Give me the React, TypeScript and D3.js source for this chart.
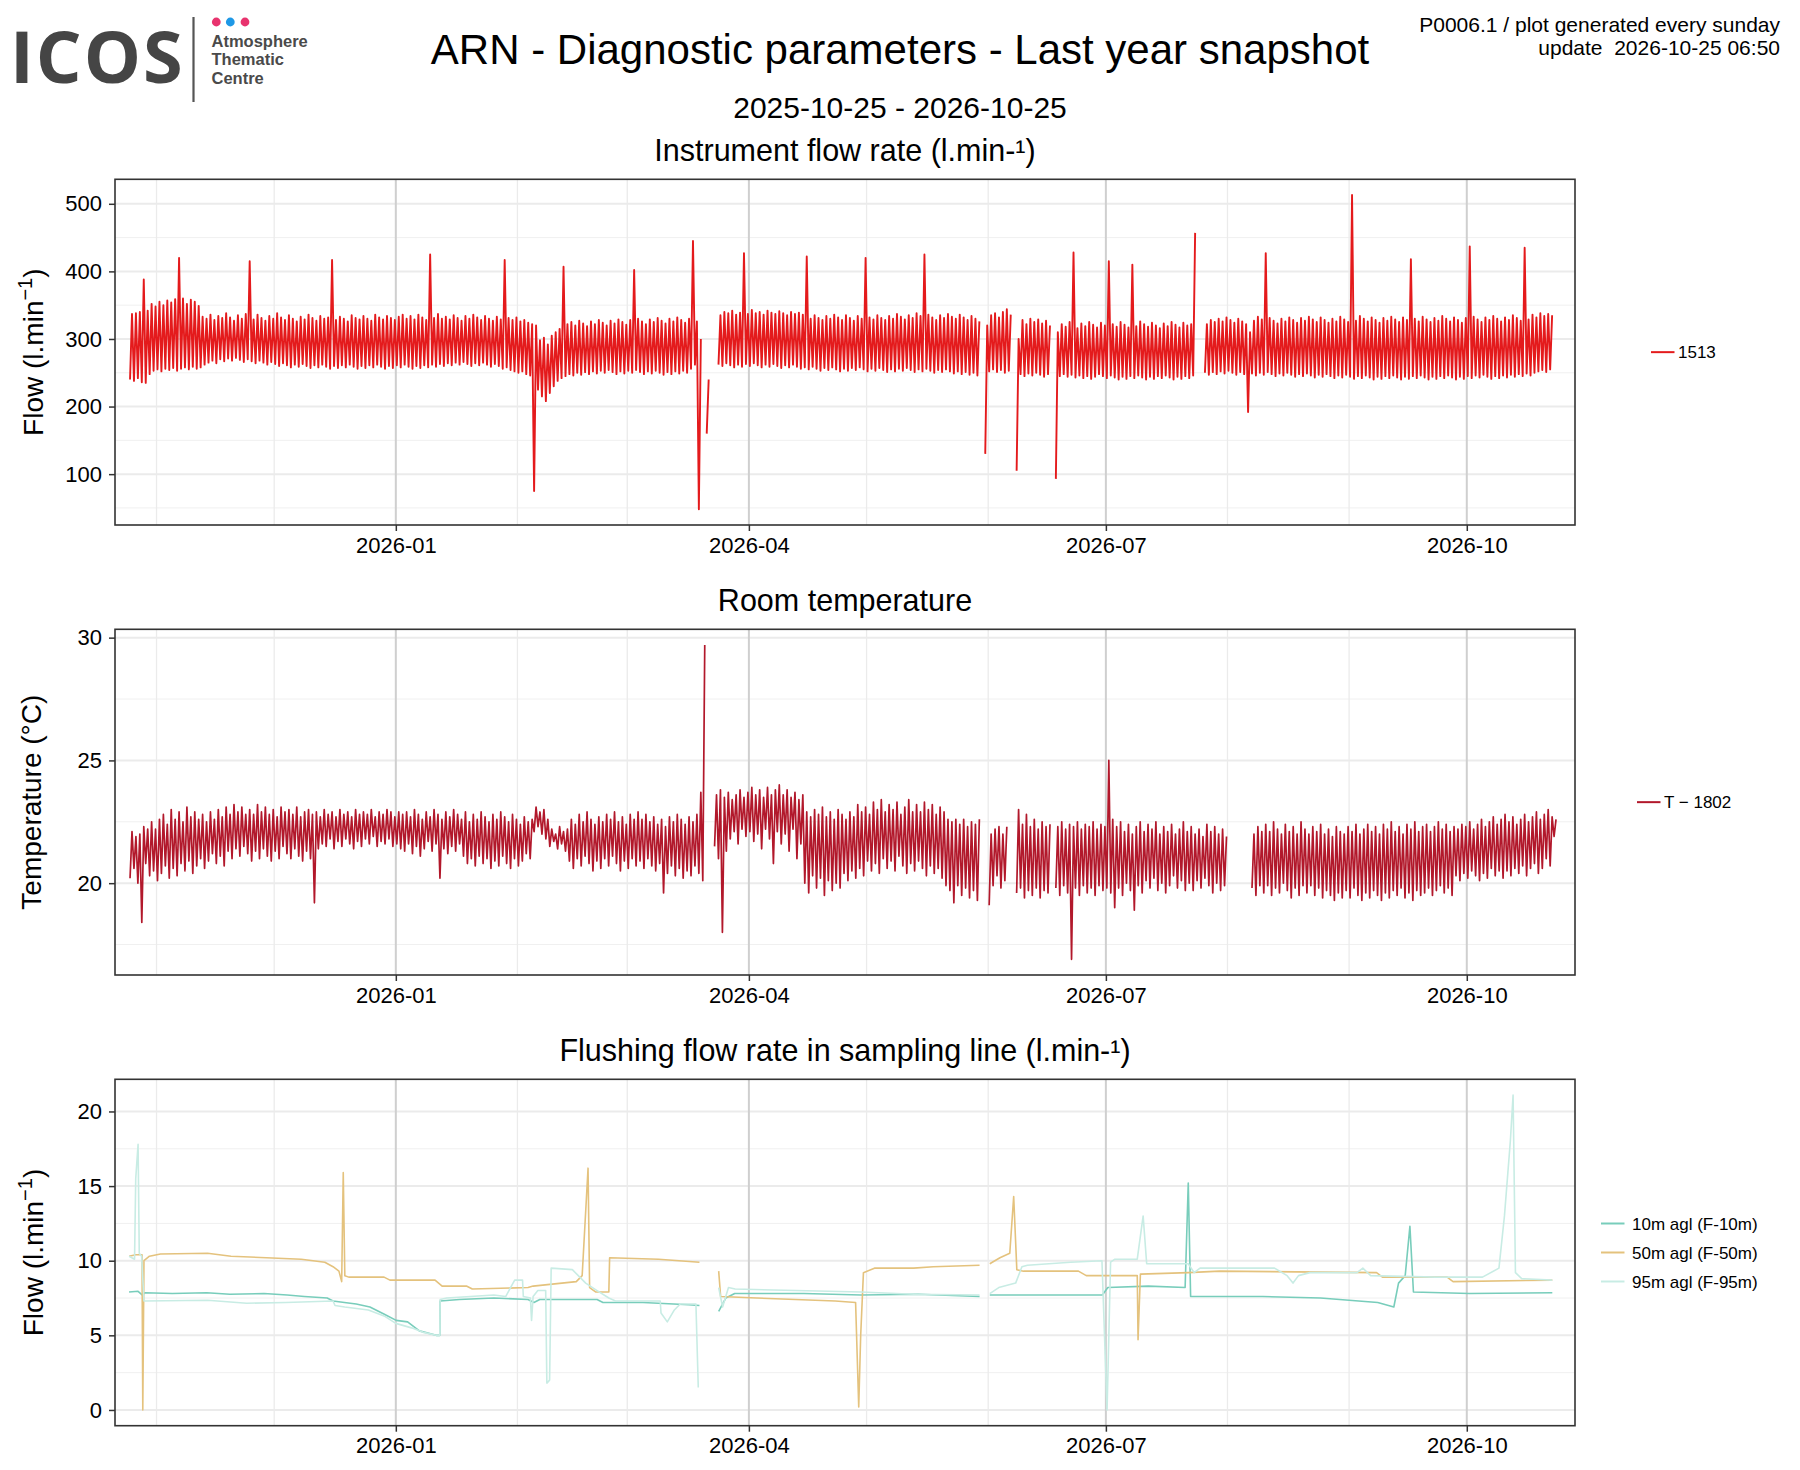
import React, { useEffect, useRef } from 'react';
import * as d3 from 'd3';

// ---- data ----
// daily series start on this day; index = days since START_DAY
const START_DAY = '2025-10-25';
const X_LIMITS = ['2025-10-21T10:00:00Z', '2026-10-28T14:00:00Z'];
const X_TICKS = ['2026-01-01', '2026-04-01', '2026-07-01', '2026-10-01'];
const X_MINOR = ['2025-11-01', '2025-12-01', '2026-02-01', '2026-03-01', '2026-05-01', '2026-06-01', '2026-08-01', '2026-09-01'];

const FLOW_TICKS = [100, 200, 300, 400, 500];
const TEMP_TICKS = [20, 25, 30];
const FLUSH_TICKS = [0, 5, 10, 15, 20];

// instrument flow rate, daily max / min (l/min)
const FLOW_HI = [
  337, 338, 340, 388, 342, 352, 348, 355, 350, 357,
  354, 359, 420, 360, 352, 358, 355, 349, 333, 330,
  336, 328, 334, 331, 338, 332, 327, 335, 330, 337,
  415, 329, 336, 331, 327, 334, 330, 338, 332, 328,
  335, 330, 326, 333, 329, 336, 331, 327, 334, 330,
  332, 417, 328, 333, 330, 326, 335, 331, 329, 334,
  330, 327, 336, 332, 329, 334, 331, 328, 333, 336,
  330, 334, 329, 336, 332, 328, 425, 331, 337, 330,
  333, 329, 335, 331, 327, 334, 330, 336, 332, 328,
  334, 330, 327, 333, 329, 417, 331, 328, 332, 326,
  328, 324, 322, 320, 298, 302, 292, 305, 310, 315,
  407, 322, 325, 320, 327, 323, 319, 326, 322, 328,
  324, 320, 327, 323, 329, 325, 321, 328, 402, 330,
  326, 322, 329, 325, 331, 327, 323, 330, 326, 332,
  328, 324, 330, 445, 326, 300, null, 240, null, null,
  335, 340, 338, 342, 336, 339, 427, 337, 343, 338,
  340, 336, 342, 339, 337, 341, 338, 335, 340, 337,
  339, 336, 422, 330, 335, 331, 328, 334, 330, 336,
  332, 328, 335, 331, 327, 334, 330, 420, 332, 329,
  335, 331, 328, 334, 330, 337, 333, 329, 335, 331,
  338, 334, 425, 336, 332, 328, 335, 331, 337, 333,
  330, 336, 332, 328, 334, 330, 326, null, 320, 335,
  338, 332, 340, 344, 336, null, 300, 328, 322, 330,
  325, 329, 323, 327, 320, null, 310, 322, 318, 325,
  428, 316, 323, 319, 325, 321, 317, 324, 320, 415,
  322, 318, 325, 321, 317, 410, 319, 326, 322, 318,
  324, 320, 316, 323, 319, 325, 321, 317, 324, 320,
  322, 457, null, null, 322, 328, 325, 330, 326, 332,
  328, 324, 330, 326, 322, 310, 327, 333, 329, 427,
  331, 327, 323, 330, 326, 332, 328, 324, 331, 327,
  333, 329, 325, 332, 328, 324, 330, 326, 333, 329,
  325, 513, 327, 334, 330, 326, 332, 328, 324, 331,
  327, 333, 329, 325, 332, 328, 418, 330, 326, 333,
  329, 325, 331, 327, 334, 330, 326, 332, 328, 324,
  331, 437, 333, 329, 325, 332, 328, 334, 330, 326,
  332, 328, 335, 331, 327, 435, 329, 336, 332, 338,
  334, 337, 335,
];
const FLOW_LO = [
  240, 238, 242, 236, 235, 248, 253, 255, 252, 256,
  254, 257, 253, 256, 258, 255, 259, 256, 258, 262,
  265, 268, 264, 270, 267, 271, 268, 272, 269, 266,
  270, 267, 264, 268, 265, 262, 266, 263, 260, 264,
  261, 258, 262, 259, 263, 260, 257, 261, 258, 262,
  259, 256, 260, 257, 261, 258, 262, 259, 256, 260,
  257, 261, 258, 262, 259, 256, 260, 257, 261, 258,
  262, 259, 256, 260, 257, 261, 258, 262, 259, 263,
  260, 264, 261, 265, 262, 266, 263, 260, 264, 261,
  265, 262, 259, 263, 260, 256, 258, 254, 252, 250,
  252, 248, 246, 75, 225, 215, 208, 220, 230, 238,
  242, 245, 248, 246, 250, 247, 251, 248, 252, 249,
  253, 250, 254, 251, 248, 252, 249, 253, 250, 254,
  251, 248, 252, 249, 253, 250, 247, 251, 248, 252,
  249, 253, 250, 256, 262, 48, null, 160, null, null,
  262, 260, 264, 261, 258, 262, 259, 263, 260, 264,
  261, 258, 262, 259, 263, 260, 257, 261, 258, 262,
  259, 256, 258, 255, 259, 256, 253, 257, 254, 258,
  255, 252, 256, 253, 257, 254, 258, 255, 252, 256,
  253, 257, 254, 251, 255, 252, 256, 253, 257, 254,
  251, 255, 252, 256, 253, 250, 254, 251, 255, 252,
  249, 252, 248, 251, 247, 250, 246, null, 130, 252,
  255, 251, 254, 250, 253, null, 105, 248, 245, 249,
  246, 250, 247, 244, 248, null, 93, 245, 248, 244,
  247, 243, 246, 242, 245, 241, 244, 248, 245, 242,
  246, 243, 240, 244, 241, 245, 242, 246, 243, 240,
  244, 241, 245, 242, 246, 243, 240, 244, 241, 245,
  242, 246, null, null, 250, 247, 251, 248, 252, 249,
  253, 250, 247, 251, 248, 192, 249, 246, 250, 247,
  251, 248, 245, 249, 246, 250, 247, 244, 248, 245,
  249, 246, 243, 247, 244, 248, 245, 242, 246, 243,
  247, 244, 241, 245, 242, 246, 243, 240, 244, 241,
  245, 242, 246, 243, 240, 244, 241, 245, 242, 246,
  243, 240, 244, 241, 245, 242, 246, 243, 240, 244,
  241, 245, 242, 246, 243, 247, 244, 241, 245, 242,
  246, 243, 247, 244, 248, 245, 249, 246, 250, 252,
  254, 251, 255,
];

// room temperature, daily max / min (°C)
const TEMP_HI = [
  22.1, 21.9, 22.0, 22.3, 22.2, 22.5, 22.2, 22.6, 22.8, 22.4,
  23.0, 22.6, 22.9, 22.5, 23.1, 22.7, 22.9, 22.6, 22.8, 22.5,
  22.9, 22.6, 23.0, 22.7, 23.1, 22.8, 23.2, 22.9, 23.1, 22.8,
  23.0, 22.8, 23.2, 22.9, 23.1, 22.8, 23.0, 22.7, 23.1, 22.9,
  23.0, 22.8, 23.1, 22.7, 22.9, 23.0, 22.8, 22.9, 22.7, 23.0,
  22.8, 22.9, 22.7, 23.0, 22.8, 22.9, 22.7, 23.0, 22.8, 22.9,
  22.8, 23.0, 22.7, 22.9, 22.8, 23.0, 22.9, 22.7, 22.9, 22.8,
  22.9, 22.7, 23.0, 22.8, 22.6, 22.9, 22.7, 23.0, 22.8, 22.6,
  22.9, 22.7, 23.0, 22.8, 22.6, 22.9, 22.5, 22.8, 22.6, 22.9,
  22.7, 22.5, 22.8, 22.6, 22.9, 22.7, 22.5, 22.8, 22.6, 22.4,
  22.7, 22.5, 22.6, 23.1, 22.9, 23.0, 22.6, 22.2, 22.0, 22.3,
  22.1, 22.2, 22.6, 22.4, 22.8, 22.5, 22.9, 22.6, 22.4, 22.7,
  22.5, 22.8, 22.6, 22.9, 22.5, 22.7, 22.4, 22.8, 22.6, 22.9,
  22.6, 22.8, 22.5, 22.7, 22.4, 22.6, 22.3, 22.7, 22.5, 22.8,
  22.6, 22.4, 22.7, 22.5, 22.8, 23.7, 29.7, null, null, 23.6,
  23.8, 23.5, 23.7, 23.4, 23.6, 23.8, 23.5, 23.7, 23.9, 23.6,
  23.8, 23.5, 23.9, 23.6, 23.8, 24.0, 23.6, 23.8, 23.5, 23.7,
  23.4, 23.6, 22.9, 22.7, 23.0, 22.8, 23.1, 22.7, 22.9, 22.6,
  23.0, 22.8, 22.6, 22.9, 22.7, 23.2, 22.9, 23.1, 22.8, 23.3,
  23.0, 23.4, 22.9, 23.2, 23.0, 23.3, 22.8, 23.1, 23.4, 22.9,
  23.2, 22.9, 23.3, 23.0, 23.2, 22.8, 23.1, 22.9, 22.6, 22.5,
  22.6, 22.4, 22.6, 22.3, 22.5, 22.4, 22.6, null, null, 22.0,
  22.2, 22.3, 22.0, 22.3, null, null, 23.0, 22.4, 22.8, 22.3,
  22.6, 22.2, 22.5, 22.3, 22.4, null, 22.3, 22.5, 22.2, 22.4,
  22.3, 22.5, 22.2, 22.4, 22.3, 22.5, 22.2, 22.4, 22.3, 25.0,
  22.6, 22.3, 22.5, 22.1, 22.4, 22.0, 22.3, 22.5, 22.1, 22.4,
  22.2, 22.5, 22.0, 22.3, 22.1, 22.4, 22.0, 22.2, 22.5, 22.1,
  22.3, 22.0, 22.2, 21.9, 22.4, 22.1, 22.3, 22.0, 22.2, 21.9,
  null, null, null, null, null, null, 22.0, 22.3, 22.1, 22.4,
  22.1, 22.5, 22.2, 22.0, 22.4, 22.1, 22.3, 22.0, 22.5, 22.2,
  22.0, 22.3, 22.1, 22.4, 22.0, 22.2, 21.9, 22.3, 22.1, 22.0,
  22.3, 22.1, 22.4, 22.0, 22.2, 22.4, 22.1, 22.3, 22.0, 22.4,
  22.2, 22.5, 22.1, 22.3, 22.0, 22.4, 22.2, 22.5, 22.1, 22.3,
  22.4, 22.1, 22.3, 22.5, 22.2, 22.4, 22.1, 22.3, 22.2, 22.4,
  22.3, 22.5, 22.2, 22.4, 22.6, 22.3, 22.5, 22.7, 22.4, 22.6,
  22.8, 22.5, 22.7, 22.4, 22.6, 22.8, 22.5, 22.7, 22.9, 22.6,
  22.8, 23.0, 22.7, 22.6,
];
const TEMP_LO = [
  20.2, 20.6, 20.0, 18.4, 20.8, 20.3, 20.5, 20.1, 20.4, 20.7,
  20.2, 20.6, 20.3, 20.8, 20.5, 20.9, 20.4, 20.7, 21.0, 20.6,
  20.9, 21.2, 20.8, 21.1, 20.7, 21.3, 21.0, 21.4, 21.1, 21.5,
  21.2, 20.9, 21.3, 21.0, 21.4, 21.1, 20.9, 21.3, 21.0, 21.5,
  21.2, 21.0, 21.4, 21.1, 20.9, 21.3, 21.0, 19.2, 21.4, 21.6,
  21.5, 21.8, 21.4, 21.7, 21.5, 21.8, 21.6, 21.4, 21.7, 21.5,
  21.8, 21.6, 21.9, 21.5, 21.7, 21.6, 21.8, 21.5, 21.6, 21.4,
  21.3, 21.6, 21.2, 21.5, 21.1, 21.4, 21.7, 21.3, 21.6, 20.2,
  21.4, 21.2, 21.5, 21.3, 21.6, 21.1, 20.8, 21.0, 20.7, 21.1,
  20.8, 21.0, 20.6, 20.9, 20.7, 21.1, 20.8, 20.6, 21.0, 20.7,
  20.9, 21.2, 21.0, 22.1, 22.3, 22.0, 21.8, 21.5, 21.7, 21.4,
  21.6, 21.3, 20.9, 20.6, 21.0, 20.7, 21.1, 20.8, 20.5, 20.9,
  20.6, 21.0, 20.7, 21.1, 20.8, 20.5, 20.9, 20.6, 21.0, 20.7,
  20.9, 20.6, 21.0, 20.7, 20.5, 20.8, 19.6, 20.4, 20.7, 20.3,
  20.6, 20.2, 20.5, 20.3, 20.7, 20.4, 20.1, null, null, 21.5,
  21.0, 18.0, 21.3, 21.8, 22.1, 21.6, 22.2, 21.9, 22.1, 21.7,
  22.0, 21.4, 22.2, 21.8, 20.8, 22.1, 21.6, 22.0, 21.3, 22.2,
  21.0, 21.6, 20.0, 19.6, 20.3, 19.8, 20.2, 19.5, 20.1, 19.7,
  20.0, 19.8, 20.4, 20.1, 20.5, 20.2, 20.6, 20.3, 20.9, 20.5,
  20.8, 20.4, 21.0, 20.6, 20.9, 20.5, 21.1, 20.7, 20.4, 20.8,
  20.5, 20.9, 20.6, 20.3, 20.7, 20.4, 20.6, 20.2, 19.9, 19.7,
  19.2, 19.9, 19.5, 19.8, 19.4, 19.7, 19.3, null, null, 19.1,
  19.9, 20.3, 19.8, 20.1, null, null, 19.6, 19.8, 19.4, 19.7,
  19.5, 19.8, 19.4, 19.7, 19.6, null, 19.8, 19.5, 19.9, 19.6,
  16.9, 19.8, 19.5, 19.9, 19.6, 19.8, 19.5, 19.9, 19.7, 19.8,
  19.6, 19.0, 19.8, 19.5, 20.0, 19.7, 18.9, 19.9, 19.6, 20.1,
  19.8, 20.2, 19.7, 20.0, 19.6, 19.9, 20.3, 19.8, 20.1, 19.7,
  20.0, 19.7, 20.1, 19.8, 20.2, 19.9, 19.6, 20.0, 19.7, 19.9,
  null, null, null, null, null, null, 19.8, 19.5, 19.9, 19.6,
  19.9, 19.5, 19.8, 19.6, 20.0, 19.7, 19.4, 19.8, 19.5, 19.9,
  19.6, 19.9, 19.5, 19.8, 19.4, 19.7, 19.5, 19.3, 19.6, 19.4,
  19.7, 19.4, 19.8, 19.5, 19.3, 19.6, 19.4, 19.7, 19.5, 19.3,
  19.6, 19.4, 19.7, 19.5, 19.8, 19.4, 19.6, 19.3, 19.7, 19.5,
  19.6, 19.8, 19.5, 19.7, 19.9, 19.6, 19.8, 19.5, 20.3, 20.1,
  20.4, 20.2, 20.5, 20.3, 20.1, 20.4, 20.2, 20.6, 20.3, 20.5,
  20.2, 20.5, 20.3, 20.6, 20.4, 20.7, 20.3, 20.6, 20.8, 20.4,
  20.6, 21.0, 20.7, 21.9,
];

// flushing flow, [days since START_DAY, l/min]; null = no data
const FLUSH_10M = [
  [0, 7.9], [2.3, 7.95], [3.4, 7.7], [4.0, 7.85], [11, 7.8], [19.8, 7.85], [25.7, 7.75],
  [34.4, 7.8], [40.3, 7.7], [44.7, 7.6], [50.5, 7.5], [52, 7.3], [54.9, 7.2], [57.9, 7.1],
  [61.4, 6.9], [65.2, 6.4], [68.1, 6.0], [71, 5.9], [74, 5.3], [78.3, 5.0], [79.2, 5.0],
  [79.3, 7.3], [84.2, 7.4], [93, 7.5], [101.7, 7.4], [103.2, 7.2], [104.7, 7.4], [119.3, 7.4],
  [120.8, 7.2], [131, 7.2], [142.7, 7.05], [145.4, 7.0], [146, null],
  [150.3, 6.6], [152.1, 7.5], [154.4, 7.8], [172, 7.8], [186.6, 7.7], [201.2, 7.75], [216.8, 7.6],
  [218, null],
  [219.4, 7.7], [230.5, 7.7], [248.1, 7.7], [249.5, 8.2], [259.8, 8.3], [269.2, 8.2], [270, 15.2],
  [270.6, 7.6], [289, 7.6], [303.7, 7.5], [318.3, 7.2], [322.4, 6.9], [323.6, 8.5], [325.3, 9.0],
  [326.5, 12.3], [327.4, 7.9], [341.7, 7.8], [362.8, 7.85],
];
const FLUSH_50M = [
  [0, 10.3], [1.7, 10.4], [3.3, 10.4], [3.5, 0.0], [3.8, 10.0], [5.2, 10.3], [8, 10.45],
  [20, 10.5], [26, 10.3], [35, 10.2], [43.9, 10.1], [49.9, 9.9], [52, 9.6], [53.5, 9.3],
  [54.2, 8.6], [54.6, 15.9], [55.0, 9.0], [56, 8.9], [65, 8.9], [66.5, 8.7], [78, 8.7],
  [79.8, 8.3], [86, 8.3], [87.5, 8.1], [101.7, 8.2], [103, 8.3], [114, 8.6], [115.5, 9.0],
  [117, 16.2], [117.4, 8.2], [119, 7.9], [122.3, 7.9], [122.5, 10.2], [135, 10.1], [145.4, 9.9],
  [146, null],
  [150.3, 9.3], [150.8, 7.6], [160, 7.5], [180, 7.3], [185.2, 7.2], [186, 0.2], [186.5, 5.0],
  [187.2, 9.2], [190, 9.5], [200, 9.5], [205, 9.6], [216.8, 9.7], [218, null],
  [219.4, 9.8], [222, 10.2], [224.5, 10.5], [225.5, 14.3], [226.3, 9.4], [228, 9.3], [242, 9.3],
  [244, 9.0], [257, 9.0], [257.2, 4.7], [257.8, 9.1], [270, 9.2], [278, 9.3], [318, 9.2],
  [319.5, 8.9], [336, 8.9], [337.5, 8.6], [362.8, 8.7],
];
const FLUSH_95M = [
  [0, 10.3], [1.4, 10.1], [1.7, 15.5], [2.3, 17.8], [2.6, 10.5], [3.2, 10.3], [3.8, 7.3],
  [20, 7.35], [30, 7.15], [40, 7.2], [52, 7.3], [52.5, 7.0], [55, 6.9], [61, 6.7], [65, 6.3],
  [68, 5.8], [72, 5.5], [75, 5.2], [78.3, 5.0], [79.2, 5.0], [79.3, 7.4], [81, 7.5], [93, 7.7],
  [96, 7.6], [98.3, 8.7], [100.3, 8.7], [100.5, 7.6], [102.3, 7.5], [102.6, 6.0], [103, 7.6],
  [104.2, 8.0], [106.2, 8.0], [106.5, 1.8], [107.2, 2.0], [107.6, 9.5], [113, 9.4], [114.9, 8.9],
  [116.4, 8.5], [119.3, 8.0], [122.3, 7.5], [124, 7.3], [135.4, 7.3], [135.6, 6.5], [137.2, 5.9],
  [139, 6.7], [140.5, 7.1], [144.5, 7.1], [145.1, 1.5], [146, null],
  [150.3, 8.2], [151.3, 6.9], [152.8, 8.2], [154.5, 8.1], [170, 8.0], [186.6, 7.9], [200, 7.75],
  [216.8, 7.7], [218, null],
  [219.4, 7.8], [221.7, 8.2], [226, 8.5], [227.6, 9.6], [229, 9.7], [240, 9.9], [248, 10.0],
  [249.3, 0.0], [250.2, 9.9], [251.3, 10.1], [257, 10.1], [258.5, 13.0], [259.4, 9.8], [270, 9.8],
  [271.5, 9.2], [273, 9.5], [292, 9.5], [295.2, 9.0], [296.7, 8.5], [298.1, 9.0], [301, 9.2],
  [313, 9.2], [314.5, 9.5], [316.5, 9.0], [333, 8.9], [345, 8.9], [349.2, 9.5], [350.6, 13.0],
  [352.1, 18.0], [352.8, 21.1], [353.4, 9.2], [355, 8.8], [362.8, 8.7],
];

const FLUSH_NAMES = ['10m agl (F-10m)', '50m agl (F-50m)', '95m agl (F-95m)'];

// ---- layout ----
const W = 1800;
const H = 1470;
const PLOT_L = 115;
const PLOT_R = 1575;
const FONT = '"Liberation Sans", Arial, Helvetica, sans-serif';

type Pt = { d: number; v: number | null };

const dayMs = 864e5;
const start = new Date(START_DAY + 'T00:00:00Z').getTime();
const dayToDate = (d: number) => new Date(start + d * dayMs);

// daily max/min -> one line going min -> max each day
function dailyPoints(hi: (number | null)[], lo: (number | null)[]): Pt[] {
  const pts: Pt[] = [];
  hi.forEach((h, i) => {
    if (h == null || lo[i] == null) {
      pts.push({ d: i + 0.5, v: null });
      return;
    }
    pts.push({ d: i + 0.25, v: lo[i] as number }, { d: i + 0.75, v: h });
  });
  return pts;
}

const pairPoints = (arr: (number | null)[][]): Pt[] => arr.map(([d, v]) => ({ d: d as number, v }));

export default function App() {
  const svgRef = useRef<SVGSVGElement>(null);

  useEffect(() => {
    if (!svgRef.current) return;
    const svg = d3.select(svgRef.current);
    svg.selectAll('*').remove();

    svg.append('rect').attr('width', W).attr('height', H).attr('fill', '#ffffff');

    const x = d3.scaleUtc()
      .domain(X_LIMITS.map(s => new Date(s)))
      .range([PLOT_L, PLOT_R]);

    const flushColors = ['#78cdbb', '#e4c27d', '#c8ece4'];

    const panels = [
      {
        top: 179.3, bottom: 525, titleY: 161, ytitleX: 43,
        title: 'Instrument flow rate (l.min-¹)',
        ytitle: ['Flow (l.min', '−1', ')'],
        ticks: FLOW_TICKS,
        series: [{ pts: dailyPoints(FLOW_HI, FLOW_LO), color: '#e41a1c', width: 1.9 }],
        legend: { keyX: 1651, textX: 1678, rows: [{ label: '1513', color: '#e41a1c' }] },
      },
      {
        top: 629.3, bottom: 975, titleY: 611, ytitleX: 41,
        title: 'Room temperature',
        ytitle: ['Temperature (°C)'],
        ticks: TEMP_TICKS,
        series: [{ pts: dailyPoints(TEMP_HI, TEMP_LO), color: '#b2182b', width: 1.7 }],
        legend: { keyX: 1637, textX: 1664, rows: [{ label: 'T − 1802', color: '#b2182b' }] },
      },
      {
        top: 1079.3, bottom: 1425.7, titleY: 1061, ytitleX: 43,
        title: 'Flushing flow rate in sampling line (l.min-¹)',
        ytitle: ['Flow (l.min', '−1', ')'],
        ticks: FLUSH_TICKS,
        series: [
          { pts: pairPoints(FLUSH_10M), color: flushColors[0], width: 1.6 },
          { pts: pairPoints(FLUSH_50M), color: flushColors[1], width: 1.6 },
          { pts: pairPoints(FLUSH_95M), color: flushColors[2], width: 1.6 },
        ],
        legend: {
          keyX: 1601, textX: 1632,
          rows: FLUSH_NAMES.map((label, i) => ({ label, color: flushColors[i] })),
        },
      },
    ];

    panels.forEach(p => {
      const g = svg.append('g');
      const vals = p.series.flatMap(s => s.pts.map(q => q.v)).filter(v => v != null) as number[];
      const [lo, hi] = d3.extent(vals) as [number, number];
      const pad = (hi - lo) * 0.05;
      const y = d3.scaleLinear().domain([lo - pad, hi + pad]).range([p.bottom, p.top]);

      // minor horizontal grid (half steps)
      const step = p.ticks[1] - p.ticks[0];
      const minorY = [p.ticks[0] - step / 2, ...p.ticks.map(t => t + step / 2)]
        .filter(v => v > y.domain()[0] && v < y.domain()[1]);
      g.selectAll('line.hmin').data(minorY).enter().append('line')
        .attr('x1', PLOT_L).attr('x2', PLOT_R)
        .attr('y1', d => y(d)).attr('y2', d => y(d))
        .attr('stroke', '#f0f0f0').attr('stroke-width', 1);

      // minor vertical grid (monthly)
      g.selectAll('line.vmin').data(X_MINOR).enter().append('line')
        .attr('x1', d => x(new Date(d + 'T00:00:00Z'))).attr('x2', d => x(new Date(d + 'T00:00:00Z')))
        .attr('y1', p.top).attr('y2', p.bottom)
        .attr('stroke', '#ebebeb').attr('stroke-width', 1.3);

      // major horizontal grid
      g.selectAll('line.hmaj').data(p.ticks).enter().append('line')
        .attr('x1', PLOT_L).attr('x2', PLOT_R)
        .attr('y1', d => y(d)).attr('y2', d => y(d))
        .attr('stroke', '#ebebeb').attr('stroke-width', 2);

      // major vertical grid
      g.selectAll('line.vmaj').data(X_TICKS).enter().append('line')
        .attr('x1', d => x(new Date(d + 'T00:00:00Z'))).attr('x2', d => x(new Date(d + 'T00:00:00Z')))
        .attr('y1', p.top).attr('y2', p.bottom)
        .attr('stroke', '#cfcfcf').attr('stroke-width', 2);

      // series
      const line = d3.line<Pt>()
        .defined(q => q.v != null)
        .x(q => x(dayToDate(q.d)))
        .y(q => y(q.v as number));

      p.series.forEach(s => {
        g.append('path')
          .datum(s.pts)
          .attr('d', line)
          .attr('fill', 'none')
          .attr('stroke', s.color)
          .attr('stroke-width', s.width)
          .attr('stroke-linejoin', 'round');
      });

      // panel border
      g.append('rect')
        .attr('x', PLOT_L).attr('y', p.top)
        .attr('width', PLOT_R - PLOT_L).attr('height', p.bottom - p.top)
        .attr('fill', 'none').attr('stroke', '#333333').attr('stroke-width', 1.6);

      // y axis
      const yAxis = g.append('g').attr('transform', `translate(${PLOT_L},0)`)
        .call(d3.axisLeft(y).tickValues(p.ticks).tickSize(6).tickPadding(7).tickFormat(d3.format('d')));
      yAxis.select('.domain').remove();
      yAxis.selectAll('.tick line').attr('stroke', '#333333').attr('stroke-width', 1.5);
      yAxis.selectAll('.tick text')
        .attr('fill', '#000').attr('font-size', 22).attr('font-family', FONT);

      // x axis
      const xAxis = g.append('g').attr('transform', `translate(0,${p.bottom})`)
        .call(d3.axisBottom(x)
          .tickValues(X_TICKS.map(d => new Date(d + 'T00:00:00Z')))
          .tickSize(6).tickPadding(6)
          .tickFormat(d => d3.utcFormat('%Y-%m')(d as Date)));
      xAxis.select('.domain').remove();
      xAxis.selectAll('.tick line').attr('stroke', '#333333').attr('stroke-width', 1.5);
      xAxis.selectAll('.tick text')
        .attr('fill', '#000').attr('font-size', 22).attr('font-family', FONT);

      // panel title
      svg.append('text')
        .attr('x', (PLOT_L + PLOT_R) / 2).attr('y', p.titleY)
        .attr('text-anchor', 'middle')
        .attr('font-family', FONT).attr('font-size', 30.5).attr('fill', '#000')
        .text(p.title);

      // y title
      const cy = (p.top + p.bottom) / 2;
      const yt = svg.append('text')
        .attr('transform', `translate(${p.ytitleX},${cy}) rotate(-90)`)
        .attr('text-anchor', 'middle')
        .attr('font-family', FONT).attr('font-size', 28).attr('fill', '#000');
      yt.append('tspan').text(p.ytitle[0]);
      if (p.ytitle.length > 1) {
        yt.append('tspan').attr('dy', -11).attr('font-size', 20).text(p.ytitle[1]);
        yt.append('tspan').attr('dy', 11).text(p.ytitle[2]);
      }

      // legend
      const rowH = 29;
      const y0 = cy - ((p.legend.rows.length - 1) * rowH) / 2;
      p.legend.rows.forEach((r, i) => {
        const ly = y0 + i * rowH;
        svg.append('line')
          .attr('x1', p.legend.keyX).attr('x2', p.legend.keyX + 23.5)
          .attr('y1', ly).attr('y2', ly)
          .attr('stroke', r.color).attr('stroke-width', 2);
        svg.append('text')
          .attr('x', p.legend.textX).attr('y', ly).attr('dy', '0.36em')
          .attr('font-family', FONT).attr('font-size', 17).attr('fill', '#000')
          .text(r.label);
      });
    });

    // headline
    svg.append('text')
      .attr('x', 900).attr('y', 64).attr('text-anchor', 'middle')
      .attr('font-family', FONT).attr('font-size', 42).attr('fill', '#000')
      .text('ARN - Diagnostic parameters - Last year snapshot');
    svg.append('text')
      .attr('x', 900).attr('y', 118).attr('text-anchor', 'middle')
      .attr('font-family', FONT).attr('font-size', 30).attr('fill', '#000')
      .text('2025-10-25 - 2026-10-25');

    const note = svg.append('text')
      .attr('font-family', FONT).attr('font-size', 21).attr('fill', '#000')
      .attr('text-anchor', 'end')
      .style('white-space', 'pre');
    note.append('tspan').attr('x', 1780).attr('y', 31.5).text('P0006.1 / plot generated every sunday');
    note.append('tspan').attr('x', 1780).attr('y', 55).text('update  2026-10-25 06:50');

    // ICOS logo
    const logo = svg.append('g');
    logo.append('text')
      .attr('x', 10).attr('y', 83)
      .attr('font-family', '"Open Sans", sans-serif').attr('font-weight', 700)
      .attr('font-size', 72).attr('letter-spacing', 2).attr('fill', '#454545')
      .text('ICOS');
    logo.append('line')
      .attr('x1', 193.5).attr('x2', 193.5).attr('y1', 17).attr('y2', 102)
      .attr('stroke', '#555555').attr('stroke-width', 2.2);
    [['#e8336e', 216.3], ['#1e98e6', 230.3], ['#e8336e', 245]].forEach(([c, cx]) => {
      logo.append('circle').attr('cx', cx as number).attr('cy', 22).attr('r', 4.4).attr('fill', c as string);
    });
    ['Atmosphere', 'Thematic', 'Centre'].forEach((t, i) => {
      logo.append('text')
        .attr('x', 211.5).attr('y', 46.5 + i * 18.8)
        .attr('font-family', FONT).attr('font-weight', 700)
        .attr('font-size', 16.5).attr('fill', '#4a4a4a')
        .text(t);
    });
  }, []);

  return (
    <svg
      ref={svgRef}
      width={W}
      height={H}
      viewBox={`0 0 ${W} ${H}`}
      style={{ position: 'absolute', left: 0, top: 0, display: 'block' }}
    />
  );
}
